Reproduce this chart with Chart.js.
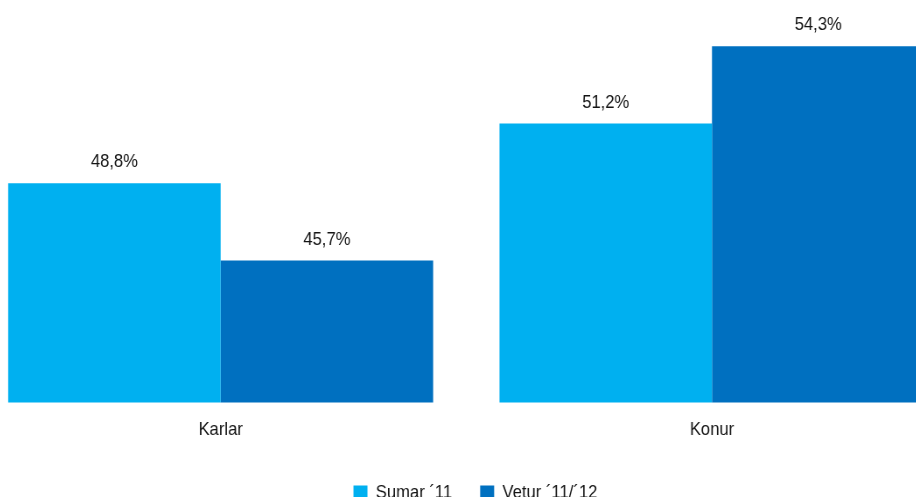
<!DOCTYPE html>
<html><head><meta charset="utf-8">
<script src="https://cdn.jsdelivr.net/npm/chart.js@4"></script>
<style>
html,body{margin:0;padding:0;overflow:hidden;background:#fff;width:916px;height:497px;}
#wrap{position:absolute;left:-25px;top:0;transform:scaleX(0.875);transform-origin:0 0;}
</style></head><body>
<div id="wrap"><canvas id="c" width="1123" height="512"></canvas></div>
<script>
const categories = ['Karlar', 'Konur'];
const seriesNames = ['Sumar ´11', 'Vetur ´11/´12'];
const sumarValues = [48.8, 51.2];
const veturValues = [45.7, 54.3];
const seriesColors = ['#00B0F0', '#0070C0'];

const FONT = "'Liberation Sans', Arial, sans-serif";
const TEXT = '#141414';
Chart.defaults.font.family = FONT;
Chart.defaults.font.size = 19;
Chart.defaults.color = TEXT;

const fmt = v => v.toFixed(1).replace('.', ',') + '%';

const valueLabels = {
  id: 'valueLabels',
  afterDatasetsDraw(chart) {
    const ctx = chart.ctx;
    ctx.save();
    ctx.font = '19px ' + FONT;
    ctx.fillStyle = TEXT;
    ctx.textAlign = 'center';
    ctx.textBaseline = 'alphabetic';
    chart.data.datasets.forEach((ds, i) => {
      chart.getDatasetMeta(i).data.forEach((bar, j) => {
        ctx.fillText(fmt(ds.data[j]), bar.x, bar.y - 16);
      });
    });
    ctx.restore();
  }
};
const legendShift = {
  id: 'legendShift',
  afterLayout(chart) { if (chart.legend) { chart.legend.left += 10.4; chart.legend.right += 10.4; } }
};

const chart = new Chart(document.getElementById('c'), {
  type: 'bar',
  data: {
    labels: categories,
    datasets: [
      { label: seriesNames[0], data: sumarValues, backgroundColor: seriesColors[0], borderWidth: 0, barPercentage: 1, categoryPercentage: 0.865 },
      { label: seriesNames[1], data: veturValues, backgroundColor: seriesColors[1], borderWidth: 0, barPercentage: 1, categoryPercentage: 0.865 }
    ]
  },
  options: {
    responsive: false,
    animation: false,
    devicePixelRatio: 1,
    layout: { padding: { top: 4, left: 0, right: 0, bottom: 0 } },
    plugins: {
      legend: {
        position: 'bottom',
        labels: { boxWidth: 16, boxHeight: 14, padding: 32, color: TEXT, font: { size: 19 } }
      },
      tooltip: { enabled: false }
    },
    scales: {
      x: {
        grid: { display: false, drawTicks: false },
        border: { display: false },
        ticks: { padding: 16, color: TEXT, font: { size: 19 } },
        afterFit(s) { s.height -= 6.3; }
      },
      y: { display: false, min: 40, max: 56 }
    }
  },
  plugins: [valueLabels, legendShift]
});
</script>
</body></html>
